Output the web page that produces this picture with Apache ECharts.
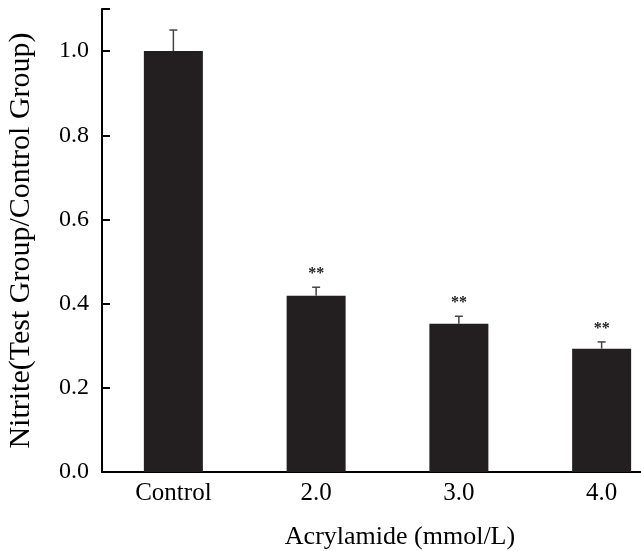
<!DOCTYPE html>
<html><head><meta charset="utf-8">
<script src="https://cdn.jsdelivr.net/npm/echarts@6/dist/echarts.min.js"></script>
<style>html,body{margin:0;padding:0;background:#fff}#c{width:641px;height:551px}</style>
</head><body><div id="c"></div>
<script>
var categories = ['Control', '2.0', '3.0', '4.0'];
var means = [1.0, 0.419, 0.352, 0.293];
var errors = [0.05, 0.020, 0.018, 0.016];
var marks = ['', '**', '**', '**'];
var yTicks = [0, 0.2, 0.4, 0.6, 0.8, 1.0];

var chart = echarts.init(document.getElementById('c'));
var font = '"Liberation Serif", "Times New Roman", serif';
var errData = categories.map(function (c, i) { return [i, means[i], errors[i]]; });

chart.setOption({
  animation: false,
  grid: { left: 102, right: -32, top: 9, bottom: 79, containLabel: false, outerBoundsMode: 'none' },
  xAxis: {
    type: 'category', data: categories,
    axisLine: { lineStyle: { color: '#000', width: 2 } },
    axisTick: { show: false },
    axisLabel: { color: '#000', fontFamily: font, fontSize: 25, margin: 9 }
  },
  yAxis: {
    type: 'value', min: 0, max: 1.1, interval: 0.2,
    name: 'Nitrite(Test Group/Control Group)', nameLocation: 'middle', nameGap: 66,
    nameTextStyle: { color: '#000', fontFamily: font, fontSize: 30 },
    axisLine: { show: true, lineStyle: { color: '#000', width: 2 } },
    axisTick: { show: true, inside: true, length: 8, lineStyle: { color: '#000', width: 2 } },
    splitLine: { show: false },
    axisLabel: { color: '#000', fontFamily: font, fontSize: 24, margin: 13,
      formatter: function (v) { return yTicks.some(function (t) { return Math.abs(t - v) < 1e-9; }) ? v.toFixed(1) : ''; } }
  },
  graphic: [{ type: 'text', x: 400, y: 537,
    style: { text: 'Acrylamide (mmol/L)', fill: '#000', font: '26px ' + font, textAlign: 'center', textVerticalAlign: 'middle' } }],
  series: [
    { type: 'bar', data: means, barWidth: 59, itemStyle: { color: '#231f20' }, z: 2 },
    { type: 'custom', z: 3, data: errData,
      renderItem: function (params, api) {
        var x = api.value(0), m = api.value(1), e = api.value(2);
        var base = api.coord([x, m]);
        var top = api.coord([x, m + e]);
        var hw = 4;
        var children = [
          { type: 'line', shape: { x1: base[0], y1: base[1], x2: top[0], y2: top[1] }, style: { stroke: '#444', lineWidth: 1.5 } },
          { type: 'line', shape: { x1: top[0] - hw, y1: top[1], x2: top[0] + hw, y2: top[1] }, style: { stroke: '#444', lineWidth: 1.5 } }
        ];
        var mk = marks[params.dataIndex];
        if (mk) {
          children.push({ type: 'text', style: { text: mk, x: top[0], y: top[1] - 13, textAlign: 'center', textVerticalAlign: 'middle', fill: '#222', font: 'bold 16px ' + font } });
        }
        return { type: 'group', children: children };
      }
    }
  ]
});
</script></body></html>
